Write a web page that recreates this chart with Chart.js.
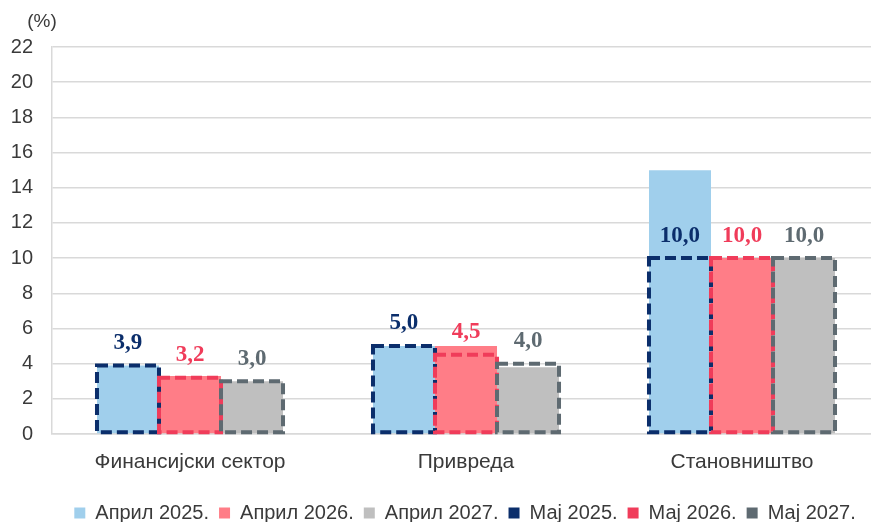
<!DOCTYPE html>
<html>
<head>
<meta charset="utf-8">
<script src="https://cdn.jsdelivr.net/npm/chart.js@4.4.1/dist/chart.umd.min.js"></script>
<style>
    html, body { margin: 0; padding: 0; background: #fff; overflow: hidden; }
    #wrap { width: 880px; height: 533px; }
</style>
</head>
<body>
<div id="wrap"><canvas id="chart" width="880" height="533"></canvas></div>
<script>
// Data
const categories = ['Финансијски сектор', 'Привреда', 'Становништво'];
const april2025 = [3.9, 5.0, 15.0];
const april2026 = [3.3, 5.0, 10.0];
const april2027 = [3.0, 3.8, 10.0];
const may2025 = [3.9, 5.0, 10.0];
const may2026 = [3.2, 4.5, 10.0];
const may2027 = [3.0, 4.0, 10.0];
const yTicks = [0, 2, 4, 6, 8, 10, 12, 14, 16, 18, 20, 22];

const textColor = '#3a3a3a';
const gridColor = '#d9d9d9';
const sans = '"Liberation Sans", Arial, sans-serif';

// Dashed outline bars + value labels for the "Мај" series
const dashedBars = {
    id: 'dashedBars',
    afterDatasetsDraw(chart) {
        const ctx = chart.ctx;
        const items = [];
        chart.data.datasets.forEach((ds, i) => {
            if (!ds.dashColor) return;
            chart.getDatasetMeta(i).data.forEach((bar, j) => {
                const p = bar.getProps(['x', 'y', 'base', 'width'], true);
                items.push({ p: p, color: ds.dashColor, value: ds.data[j] });
            });
        });
        items.forEach(it => {
            const p = it.p;
            ctx.save();
            ctx.strokeStyle = it.color;
            ctx.lineWidth = 4;
            ctx.setLineDash([11, 5]);
            ctx.strokeRect(p.x - p.width / 2, p.y, p.width, p.base - p.y - 1);
            ctx.restore();
        });
        items.forEach(it => {
            ctx.save();
            ctx.font = 'bold 23px "Liberation Serif", "Times New Roman", serif';
            ctx.fillStyle = it.color;
            ctx.textAlign = 'center';
            ctx.textBaseline = 'bottom';
            ctx.fillText(it.value.toFixed(1).replace('.', ','), it.p.x, it.p.y - 11);
            ctx.restore();
        });
    }
};

// "(%)" unit label above the y axis, and legend centred under the plot
const extras = {
    id: 'extras',
    afterLayout(chart) {
        chart.legend.left = chart.chartArea.left - 2;
    },
    afterDraw(chart) {
        const ctx = chart.ctx;
        const area = chart.chartArea;
        ctx.save();
        ctx.font = '19px ' + sans;
        ctx.fillStyle = textColor;
        ctx.textAlign = 'center';
        ctx.textBaseline = 'middle';
        ctx.fillText('(%)', area.left - 10, area.top - 25);
        ctx.restore();
    }
};

const ctx = document.getElementById('chart');
const chart = new Chart(ctx, {
    type: 'bar',
    data: {
        labels: categories,
        datasets: [{
            label: 'Април 2025.',
            data: april2025,
            backgroundColor: '#a0cfec',
            stack: 's2025'
        }, {
            label: 'Април 2026.',
            data: april2026,
            backgroundColor: '#ff7d87',
            stack: 's2026'
        }, {
            label: 'Април 2027.',
            data: april2027,
            backgroundColor: '#bfbfbf',
            stack: 's2027'
        }, {
            label: 'Мај 2025.',
            data: may2025,
            backgroundColor: 'rgba(0,0,0,0)',
            dashColor: '#0b2e6b',
            stack: 's2025'
        }, {
            label: 'Мај 2026.',
            data: may2026,
            backgroundColor: 'rgba(0,0,0,0)',
            dashColor: '#f03c5a',
            stack: 's2026'
        }, {
            label: 'Мај 2027.',
            data: may2027,
            backgroundColor: 'rgba(0,0,0,0)',
            dashColor: '#5e6a71',
            stack: 's2027'
        }]
    },
    options: {
        responsive: false,
        animation: false,
        events: [],
        layout: {
            padding: { left: 0, right: 0, top: 47, bottom: 0 }
        },
        datasets: {
            bar: {
                barPercentage: 1,
                categoryPercentage: 0.674,
                borderWidth: 0
            }
        },
        scales: {
            x: {
                grid: { display: false, drawTicks: false },
                border: { display: true, color: gridColor, width: 1.5 },
                ticks: {
                    color: textColor,
                    padding: 16,
                    font: { family: sans, size: 21 }
                },
                afterFit(scale) { scale.height = 59; }
            },
            y: {
                min: 0,
                max: 22,
                stacked: false,
                grid: { color: gridColor, lineWidth: 1.5, drawTicks: false },
                border: { display: true, color: gridColor, width: 1.5 },
                ticks: {
                    color: textColor,
                    padding: 19,
                    font: { family: sans, size: 20 }
                },
                afterBuildTicks(scale) {
                    scale.ticks = yTicks.map(v => ({ value: v }));
                },
                afterFit(scale) { scale.width = 52; }
            }
        },
        plugins: {
            tooltip: { enabled: false },
            legend: {
                position: 'bottom',
                labels: {
                    boxWidth: 11,
                    boxHeight: 11,
                    padding: 10,
                    color: textColor,
                    font: { family: sans, size: 20 },
                    generateLabels(chart) {
                        return chart.data.datasets.map((ds, i) => ({
                            text: ds.label,
                            fillStyle: ds.dashColor || ds.backgroundColor,
                            strokeStyle: ds.dashColor || ds.backgroundColor,
                            lineWidth: 0,
                            fontColor: textColor,
                            datasetIndex: i,
                            hidden: false
                        }));
                    }
                }
            }
        }
    },
    plugins: [dashedBars, extras]
});
</script>
</body>
</html>
